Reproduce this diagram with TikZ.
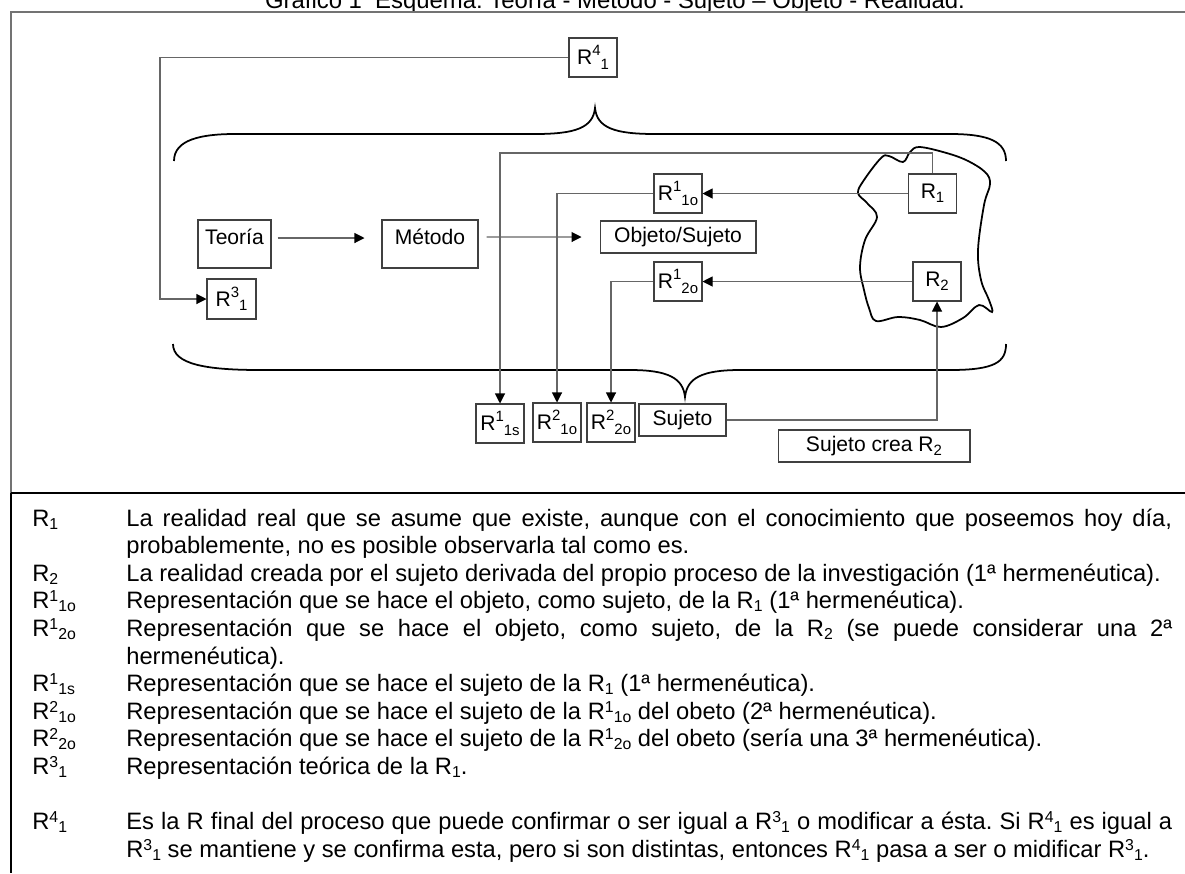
\documentclass[tikz,border=0pt]{standalone}
\usepackage{fontspec}
\setmainfont{Liberation Sans}
\usetikzlibrary{arrows.meta}
\frenchspacing
\def\subsz{8.5}
\def\supr{0.8ex}
\def\subr{0.4ex}
\newcommand{\Rsd}[2]{R\raisebox{\supr}{\fontsize{\subsz}{\subsz}\selectfont #1}\raisebox{-\subr}{\fontsize{\subsz}{\subsz}\selectfont #2}}
\newcommand{\Rsb}[1]{R\raisebox{-\subr}{\fontsize{\subsz}{\subsz}\selectfont #1}}
\tikzset{
  every node/.style={font=\fontsize{12}{14}\selectfont},
  box/.style={draw=black!75, line width=0.6pt, inner sep=0pt, align=center},
  sq/.style={box, minimum width=0.96cm, minimum height=0.78cm},
  conn/.style={draw=black!60, line width=0.6pt},
  arr/.style={conn, -{Triangle[length=0.2cm,width=0.2cm,color=black]}},
  brace/.style={draw=black, line width=1pt},
  lg/.style={anchor=base west, inner sep=0pt, font=\fontsize{13.5}{15}\selectfont\def\subsz{9}\def\supr{0.55ex}\def\subr{0.25ex}},
  frame/.style={draw=black!55, line width=0.8pt}
}
\begin{document}
\begin{tikzpicture}[x=0.02cm, y=-0.02cm]
\useasboundingbox (0,0) rectangle (1185,873);
% title and frame
\node[anchor=base, inner sep=0pt, font=\fontsize{13.6}{15}\selectfont] (title) at (615,8) {Gráfico 1 ~Esquema: Teoría - Método - Sujeto – Objeto - Realidad.};
\draw[frame] (1185,12) -- (11,12) -- (11,493);
\draw[draw=black, line width=0.8pt] (11,493) -- (11,873);
\draw[draw=black, line width=1.3pt] (11,493) -- (1185,493);
% braces
\draw[brace] (174,161) .. controls (174,140) and (200,134) .. (235,134) -- (535,134) .. controls (575,134) and (593,128) .. (595,108) .. controls (597,128) and (615,134) .. (655,134) -- (950,134) .. controls (990,134) and (1006,142) .. (1006,161);
\draw[brace] (173,344) .. controls (173,364) and (205,370) .. (260,370) -- (630,370) .. controls (668,370) and (683,378) .. (685,397) .. controls (687,378) and (702,370) .. (740,370) -- (950,370) .. controls (995,370) and (1006,362) .. (1006,344);
% reality blob
\draw[black, line width=1pt] plot[smooth cycle, tension=0.6] coordinates {(910,152) (919,147) (943,152) (966,160) (985,172) (990,184) (984,205) (978,250) (981,280) (989,300) (992,312) (979,305) (963,318) (941,327) (920,320) (898,317) (876,321) (869,308) (864,290) (860,267) (865,240) (877,217) (867,203) (858,193) (864,180) (881,158) (889,156) (903,162)};
% boxes
\node[sq] (R41) at (593,57.5) {\Rsd{4}{1}};
\node[sq, minimum width=0.98cm, minimum height=0.8cm] (R31) at (231.5,299) {\Rsd{3}{1}};
\node[box, minimum width=1.46cm, text height=0.492cm, text depth=0.468cm] (Teoria) at (234.5,244) {Teoría};
\node[box, minimum width=1.92cm, text height=0.492cm, text depth=0.468cm] (Metodo) at (430,244) {Método};
\node[box, minimum width=3.12cm, minimum height=0.64cm] (ObjSuj) at (678,237) {Objeto/Sujeto};
\node[sq] (R11o) at (678,193.5) {\Rsd{1}{1o}};
\node[sq] (R12o) at (678,281.5) {\Rsd{1}{2o}};
\node[sq] (R1) at (932.5,193.5) {\Rsb{1}};
\node[sq] (R2) at (937,281.5) {\Rsb{2}};
\node[sq] (R11s) at (500,423.5) {\Rsd{1}{1s}};
\node[sq] (R21o) at (557,422.5) {\Rsd{2}{1o}};
\node[sq] (R22o) at (611,422.5) {\Rsd{2}{2o}};
\node[box, minimum width=1.74cm, minimum height=0.64cm] (Sujeto) at (682.5,420) {Sujeto};
\node[box, minimum width=3.84cm, minimum height=0.64cm] (SujCrea) at (874,446) {Sujeto crea \Rsb{2}};
% connectors
\coordinate (c1) at (160,57.5);
\coordinate (c2) at (500,153);
\draw[arr] (R41.west) -- (c1) |- (R31.west);
\draw[arr, shorten <=0.12cm, shorten >=0.34cm] ([yshift=0.12cm]Teoria.east) -- ([yshift=0.12cm]Metodo.west);
\draw[arr, shorten <=0.16cm, shorten >=0.36cm] ([yshift=0.14cm]Metodo.east) -- (ObjSuj.west);
\draw[arr] (R1.west) -- (R11o.east);
\draw[arr] (R2.west) -- (R12o.east);
\draw[arr] (R1.north) |- (c2) -- (R11s.north);
\draw[arr] (R11o.west) -| (R21o.north);
\draw[arr] (R12o.west) -| (R22o.north);
\draw[arr] (Sujeto.east) -| (R2.south);
% legend
\node[lg] (L1) at (32,526) {\Rsb{1}};
\node[lg] (T1a) at (126,526) {\makebox[20.92cm][s]{La realidad real que se asume que existe, aunque con el conocimiento que poseemos hoy día,}};
\node[lg] (T1b) at (126,553.6) {probablemente, no es posible observarla tal como es.};
\node[lg] (L2) at (32,581.2) {\Rsb{2}};
\node[lg] (T2) at (126,581.2) {La realidad creada por el sujeto derivada del propio proceso de la investigación (1ª hermenéutica).};
\node[lg] (L3) at (32,608.8) {\Rsd{1}{1o}};
\node[lg] (T3) at (126,608.8) {Representación que se hace el objeto, como sujeto, de la \Rsb{1} (1ª hermenéutica).};
\node[lg] (L4) at (32,636.4) {\Rsd{1}{2o}};
\node[lg] (T4a) at (126,636.4) {\makebox[20.92cm][s]{Representación que se hace el objeto, como sujeto, de la \Rsb{2} (se puede considerar una 2ª}};
\node[lg] (T4b) at (126,664) {hermenéutica).};
\node[lg] (L5) at (32,691.6) {\Rsd{1}{1s}};
\node[lg] (T5) at (126,691.6) {Representación que se hace el sujeto de la \Rsb{1} (1ª hermenéutica).};
\node[lg] (L6) at (32,719.2) {\Rsd{2}{1o}};
\node[lg] (T6) at (126,719.2) {Representación que se hace el sujeto de la \Rsd{1}{1o} del obeto (2ª hermenéutica).};
\node[lg] (L7) at (32,746.8) {\Rsd{2}{2o}};
\node[lg] (T7) at (126,746.8) {Representación que se hace el sujeto de la \Rsd{1}{2o} del obeto (sería una 3ª hermenéutica).};
\node[lg] (L8) at (32,774.4) {\Rsd{3}{1}};
\node[lg] (T8) at (126,774.4) {Representación teórica de la \Rsb{1}.};
\node[lg] (L9) at (32,829.6) {\Rsd{4}{1}};
\node[lg] (T9a) at (126,829.6) {\makebox[20.92cm][s]{Es la R final del proceso que puede confirmar o ser igual a \Rsd{3}{1} o modificar a ésta. Si \Rsd{4}{1} es igual a}};
\node[lg] (T9b) at (126,857.2) {\Rsd{3}{1} se mantiene y se confirma esta, pero si son distintas, entonces \Rsd{4}{1} pasa a ser o midificar \Rsd{3}{1}.};
\end{tikzpicture}
\end{document}
